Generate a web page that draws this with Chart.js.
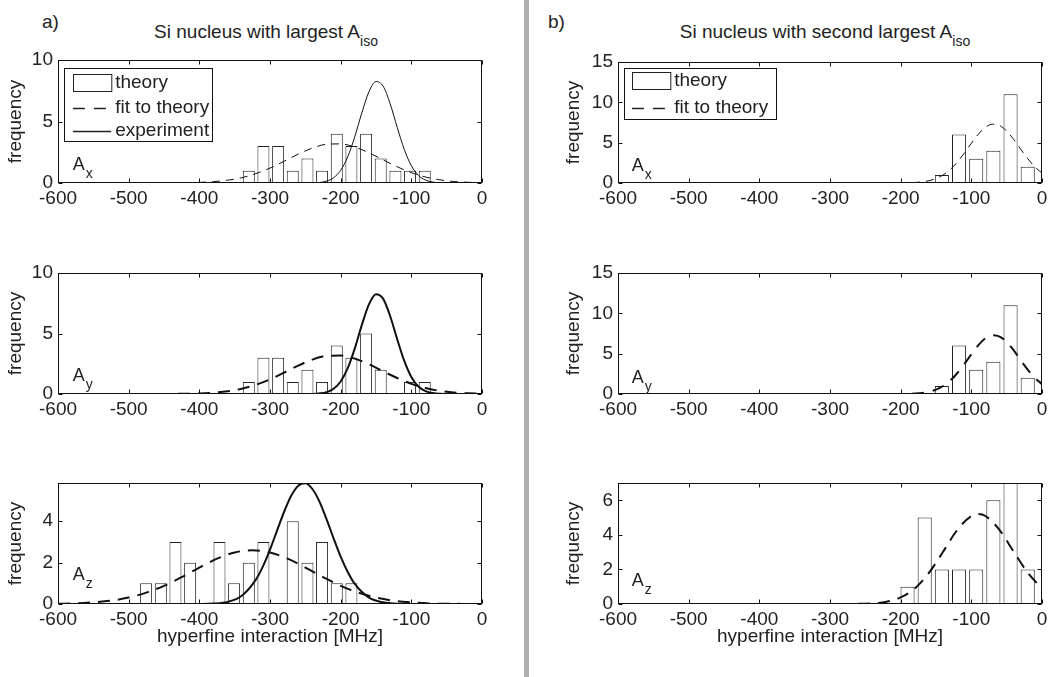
<!DOCTYPE html>
<html><head><meta charset="utf-8">
<script src="https://cdn.jsdelivr.net/npm/chart.js@4/dist/chart.umd.min.js"></script>
<style>
body{margin:0;background:#fff;width:1051px;height:677px;position:relative;overflow:hidden;font-family:"Liberation Sans",Arial,sans-serif;color:#222}
canvas{position:absolute}
.t{position:absolute;font-size:19px;line-height:19px;white-space:nowrap}
.t sub{font-size:14px;vertical-align:baseline;position:relative;top:8px}
</style></head><body>
<div style="position:absolute;left:524px;top:0;width:5px;height:677px;background:#b0b0b0"></div>
<div class="t" style="left:42px;top:12px">a)</div>
<div class="t" style="left:548px;top:12px">b)</div>
<div class="t" style="left:266px;top:22px;transform:translateX(-50%)">Si nucleus with largest A<sub>iso</sub></div>
<div class="t" style="left:825px;top:22px;transform:translateX(-50%)">Si nucleus with second largest A<sub>iso</sub></div>
<canvas id="p1"></canvas><canvas id="p2"></canvas><canvas id="p3"></canvas>
<canvas id="p4"></canvas><canvas id="p5"></canvas><canvas id="p6"></canvas>
<script>
// ---------- data ----------
const xTicks = [-600, -500, -400, -300, -200, -100, 0];
// panel a) histogram bin centres [MHz]
const binsAxy = [-330, -309.3, -288.5, -267.8, -247, -226.3, -205.5, -184.8, -164, -143.3, -122.5, -101.8, -81];
const countsAx = [1, 3, 3, 1, 2, 1, 4, 3, 4, 2, 1, 1, 1];
const countsAy = [1, 3, 3, 1, 2, 1, 4, 3, 5, 2, 0, 1, 1];
const binsAz = [-475.3, -454.5, -433.8, -413, -392.3, -371.5, -350.8, -330, -309.3, -288.5, -267.8, -247, -226.3, -205.5, -184.8];
const countsAz = [1, 1, 3, 2, 0, 3, 1, 2, 3, 0, 4, 2, 3, 1, 1];
// panel b) histogram
const binsBxy = [-141.7, -117.4, -93.1, -68.8, -44.5, -20.2];
const countsBx = [1, 6, 3, 4, 11, 2];
const countsBy = [1, 6, 3, 4, 11, 2];
const binsBz = [-190.3, -166, -141.7, -117.4, -93.1, -68.8, -44.5, -20.2];
const countsBz = [1, 5, 2, 2, 2, 6, 7, 2];
// panel a) fit to theory (x and y components)
const fitAxyX = [-600, -500, -450, -400, -380, -360, -340, -320, -300, -280, -260, -240, -220, -200, -180, -160, -140, -120, -100, -80, -60, -40, -20, 0];
const fitAxyY = [0, 0, 0.004, 0.05, 0.11, 0.23, 0.43, 0.76, 1.21, 1.77, 2.35, 2.84, 3.15, 3.18, 2.92, 2.46, 1.88, 1.32, 0.84, 0.49, 0.26, 0.12, 0.06, 0.02];
// panel a) experiment (x and y components)
const expAxyX = [-600, -300, -260, -240, -220, -210, -200, -190, -180, -170, -160, -150, -140, -130, -120, -110, -100, -90, -80, -70, -60, -40, 0];
const expAxyY = [0, 0, 0, 0.01, 0.15, 0.43, 1.03, 2.13, 3.77, 5.71, 7.41, 8.25, 7.88, 6.45, 4.53, 2.73, 1.41, 0.62, 0.24, 0.08, 0.02, 0, 0];
// panel a) z component
const fitAzX = [-600, -575, -550, -525, -500, -475, -450, -425, -400, -375, -350, -325, -300, -275, -250, -225, -200, -175, -150, -125, -100, -75, -50, -25, 0];
const fitAzY = [0.01, 0.03, 0.08, 0.16, 0.31, 0.55, 0.88, 1.30, 1.76, 2.19, 2.49, 2.60, 2.49, 2.19, 1.76, 1.30, 0.88, 0.55, 0.31, 0.16, 0.08, 0.03, 0.01, 0.005, 0];
const expAzX = [-600, -420, -400, -380, -360, -340, -320, -310, -300, -290, -280, -270, -260, -250, -240, -230, -220, -210, -200, -190, -180, -160, -140, -120, -100, 0];
const expAzY = [0, 0, 0.003, 0.02, 0.10, 0.40, 1.18, 1.82, 2.63, 3.55, 4.46, 5.23, 5.72, 5.84, 5.56, 4.95, 4.10, 3.17, 2.29, 1.55, 0.97, 0.31, 0.08, 0.01, 0, 0];
// panel b) fit to theory
const fitBxyX = [-600, -300, -220, -200, -180, -160, -150, -140, -130, -120, -110, -100, -90, -80, -70, -60, -50, -40, -30, -20, -10, 0];
const fitBxyY = [0, 0, 0, 0.01, 0.06, 0.28, 0.55, 0.99, 1.66, 2.57, 3.70, 4.92, 6.06, 6.91, 7.29, 7.12, 6.44, 5.40, 4.18, 3.00, 1.99, 1.23];
const fitBzX = [-600, -300, -260, -240, -220, -200, -180, -160, -140, -120, -100, -90, -80, -60, -40, -20, 0];
const fitBzY = [0, 0, 0.01, 0.04, 0.13, 0.38, 0.90, 1.80, 3.02, 4.28, 5.09, 5.20, 5.09, 4.28, 3.02, 1.80, 0.90];

// ---------- drawing ----------
const FONT = '"Liberation Sans", Arial, sans-serif';
Chart.defaults.font.family = FONT;
Chart.defaults.font.size = 19;
Chart.defaults.color = '#222';
const panelCfg = {};

const decoPlugin = {
  id: 'deco',
  afterDraw(chart) {
    const g = panelCfg[chart.canvas.id];
    const {ctx, chartArea: a, scales: {x, y}} = chart;
    ctx.save();
    ctx.strokeStyle = '#111'; ctx.lineWidth = 1;
    const L = Math.round(a.left) + 0.5, R = Math.round(a.right) - 0.5, T = Math.round(a.top) + 0.5, B = Math.round(a.bottom) - 0.5;
    ctx.beginPath();
    x.ticks.forEach(t => { const px = Math.round(x.getPixelForValue(t.value)) + 0.5; ctx.moveTo(px, B); ctx.lineTo(px, B - 4); ctx.moveTo(px, T); ctx.lineTo(px, T + 4); });
    y.ticks.forEach(t => { const py = Math.round(y.getPixelForValue(t.value)) + 0.5; ctx.moveTo(L, py); ctx.lineTo(L + 4, py); ctx.moveTo(R, py); ctx.lineTo(R - 4, py); });
    ctx.stroke();
    ctx.strokeRect(L, T, R - L, B - T);
    // component label
    ctx.fillStyle = '#222'; ctx.textBaseline = 'alphabetic'; ctx.textAlign = 'left';
    ctx.font = '18px ' + FONT;
    ctx.fillText('A', a.left + g.subDx, a.bottom + g.subDy);
    ctx.font = '14px ' + FONT;
    ctx.fillText(g.sub, a.left + g.subDx + 13, a.bottom + g.subDy + 7.7);
    // legend
    const lg = g.legend;
    if (lg) {
      const bx = Math.round(a.left + lg.dx) + 0.5, by = Math.round(a.top + lg.dy) + 0.5;
      ctx.fillStyle = '#fff'; ctx.fillRect(bx, by, lg.w, lg.h);
      ctx.strokeStyle = '#111'; ctx.lineWidth = 1; ctx.strokeRect(bx, by, lg.w, lg.h);
      lg.rows.forEach((r, i) => {
        const cy = by + lg.rowY[i];
        const x0 = bx + lg.ix0, x1 = bx + lg.ix1;
        ctx.strokeStyle = '#222';
        if (r.kind === 'bar') {
          ctx.lineWidth = 1; ctx.strokeRect(Math.round(x0) + 0.5, Math.round(cy - 8.5) + 0.5, x1 - x0, 17);
        } else {
          ctx.lineWidth = r.w; ctx.setLineDash(r.dash);
          ctx.beginPath(); ctx.moveTo(x0, Math.round(cy) + 0.5); ctx.lineTo(x1, Math.round(cy) + 0.5); ctx.stroke();
          ctx.setLineDash([]);
        }
        ctx.fillStyle = '#222'; ctx.font = '19px ' + FONT; ctx.textBaseline = 'middle';
        ctx.fillText(r.label, bx + lg.tx, cy);
      });
    }
    ctx.restore();
  }
};

function pts(xs, ys) { return xs.map((v, i) => ({x: v, y: ys[i]})); }

function panel(id, g) {
  panelCfg[id] = g;
  const cv = document.getElementById(id);
  const padTop = 14, yW = 58;
  const xH = g.xTitle ? 48 : 30;
  const W = yW + g.plotW + g.padRight, H = padTop + g.plotH + xH;
  cv.width = W; cv.height = H;
  cv.style.width = W + 'px'; cv.style.height = H + 'px';
  cv.style.left = (g.plotL - yW) + 'px';
  cv.style.top = (g.plotT - padTop) + 'px';
  const datasets = [{
    type: 'bar', data: pts(g.bx, g.by), backgroundColor: '#fff', borderColor: '#222', borderWidth: 1,
    categoryPercentage: 1, barPercentage: 0.82, order: 3
  }];
  g.curves.forEach(c => datasets.push({
    type: 'line', data: pts(c.x, c.y), borderColor: '#111', borderWidth: c.w, borderDash: c.dash,
    pointRadius: 0, fill: false, cubicInterpolationMode: 'monotone', order: c.order
  }));
  new Chart(cv, {
    type: 'bar',
    data: {datasets},
    options: {
      responsive: false, animation: false, devicePixelRatio: 1,
      layout: {padding: {left: 0, top: padTop, right: g.padRight, bottom: 0}},
      plugins: {legend: {display: false}, tooltip: {enabled: false}},
      scales: {
        x: {
          type: 'linear', min: -600, max: 0, offset: false,
          afterBuildTicks(s) { s.ticks = xTicks.map(v => ({value: v})); },
          ticks: {padding: 4, maxRotation: 0, autoSkip: false},
          grid: {display: false, drawTicks: false}, border: {display: false},
          title: {display: !!g.xTitle, text: 'hyperfine interaction [MHz]', padding: {top: 0, bottom: 4}},
          afterFit(s) { s.height = xH; s.paddingLeft = 0; s.paddingRight = 0; }
        },
        y: {
          type: 'linear', min: 0, max: g.yMax,
          ticks: {stepSize: g.yStep, includeBounds: false, padding: 5},
          grid: {display: false, drawTicks: false}, border: {display: false},
          title: {display: true, text: 'frequency', padding: {top: g.yTitlePad, bottom: 0}},
          afterFit(s) { s.width = yW; s.paddingTop = 0; s.paddingBottom = 0; }
        }
      }
    },
    plugins: [decoPlugin]
  });
}

const legA = {dx: 6.3, dy: 8.3, w: 148, h: 73, rowY: [14, 39, 62.7], ix0: 8.4, ix1: 46.7, tx: 50.7,
  rows: [{kind: 'bar', label: 'theory'}, {kind: 'line', label: 'fit to theory', dash: [12, 9], w: 1.5}, {kind: 'line', label: 'experiment', dash: [], w: 1.5}]};
const legB = {dx: 6.3, dy: 6.3, w: 152, h: 51, rowY: [12.4, 39], ix0: 7.4, ix1: 45.7, tx: 49.7,
  rows: [{kind: 'bar', label: 'theory'}, {kind: 'line', label: 'fit to theory', dash: [12, 9], w: 1.5}]};

panel('p1', {plotL: 58, plotT: 60, plotW: 424, plotH: 123, padRight: 15, yMax: 10, yStep: 5, yTitlePad: 4,
  bx: binsAxy, by: countsAx, sub: 'x', subDx: 14.7, subDy: -12.6, legend: legA,
  curves: [{x: fitAxyX, y: fitAxyY, w: 1, dash: [8, 6], order: 1}, {x: expAxyX, y: expAxyY, w: 1, dash: [], order: 0}]});
panel('p2', {plotL: 58, plotT: 273, plotW: 424, plotH: 121, padRight: 15, yMax: 10, yStep: 5, yTitlePad: 4,
  bx: binsAxy, by: countsAy, sub: 'y', subDx: 14.7, subDy: -13,
  curves: [{x: fitAxyX, y: fitAxyY, w: 2, dash: [12, 8], order: 1}, {x: expAxyX, y: expAxyY, w: 2, dash: [], order: 0}]});
panel('p3', {plotL: 58, plotT: 483, plotW: 424, plotH: 121, padRight: 15, yMax: 5.85, yStep: 2, yTitlePad: 4, xTitle: true,
  bx: binsAz, by: countsAz, sub: 'z', subDx: 14.7, subDy: -23.6,
  curves: [{x: fitAzX, y: fitAzY, w: 2, dash: [12, 8], order: 1}, {x: expAzX, y: expAzY, w: 2, dash: [], order: 0}]});
panel('p4', {plotL: 618, plotT: 62, plotW: 424, plotH: 121, padRight: 8, yMax: 15, yStep: 5, yTitlePad: 2,
  bx: binsBxy, by: countsBx, sub: 'x', subDx: 13.7, subDy: -11.6, legend: legB,
  curves: [{x: fitBxyX, y: fitBxyY, w: 1, dash: [8, 6], order: 1}]});
panel('p5', {plotL: 618, plotT: 273, plotW: 424, plotH: 121, padRight: 8, yMax: 15, yStep: 5, yTitlePad: 2,
  bx: binsBxy, by: countsBy, sub: 'y', subDx: 13.7, subDy: -10.7,
  curves: [{x: fitBxyX, y: fitBxyY, w: 2, dash: [12, 9], order: 1}]});
panel('p6', {plotL: 618, plotT: 483, plotW: 424, plotH: 121, padRight: 8, yMax: 7, yStep: 2, yTitlePad: 2, xTitle: true,
  bx: binsBz, by: countsBz, sub: 'z', subDx: 13.7, subDy: -17.6,
  curves: [{x: fitBzX, y: fitBzY, w: 2, dash: [12, 8], order: 1}]});
</script>
</body></html>
